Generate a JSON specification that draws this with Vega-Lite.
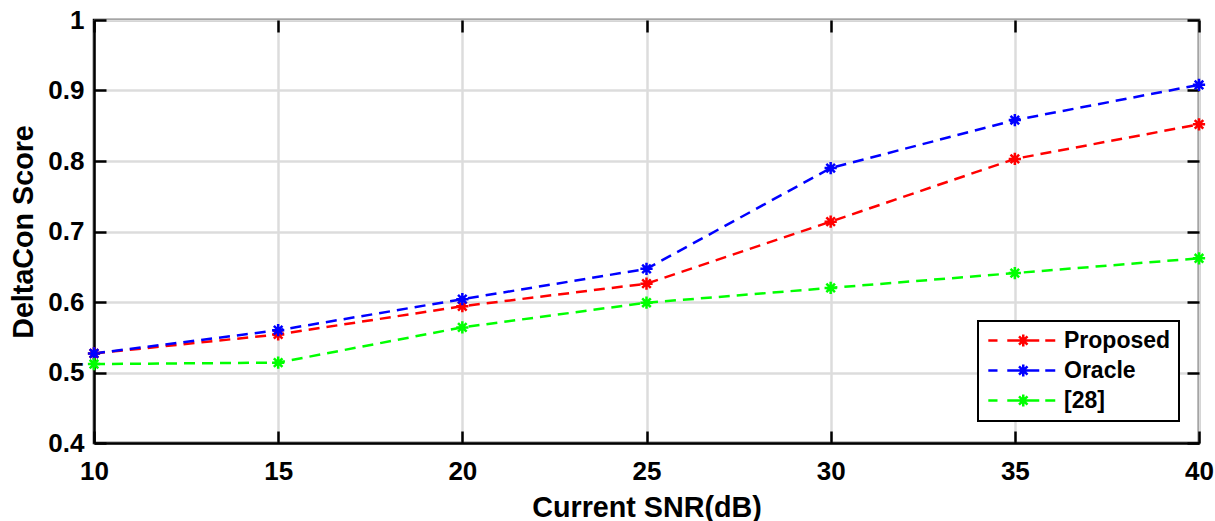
{
  "$schema": "https://vega.github.io/schema/vega-lite/v6.json",
  "width": 1105,
  "height": 423,
  "autosize": {"type": "none"},
  "padding": {"left": 94, "top": 20, "right": 16, "bottom": 78},
  "background": "white",
  "config": {
    "view": {"stroke": "black", "strokeWidth": 2.5},
    "font": "Liberation Sans",
    "legend": {"strokeColor": "black", "strokeWidth": 2},
    "axis": {
      "domainColor": "black", "domainWidth": 2.5,
      "tickColor": "black", "tickWidth": 2.5, "tickSize": -12,
      "gridColor": "#dcdcdc", "gridWidth": 2.5,
      "labelFont": "Liberation Sans", "labelFontWeight": "bold", "labelFontSize": 26, "labelColor": "black",
      "titleFont": "Liberation Sans", "titleFontWeight": "bold", "titleFontSize": 28.7, "titleColor": "black"
    }
  },
  "data": {"values": [
    {"snr": 10, "score": 0.527, "method": "Proposed"},
    {"snr": 15, "score": 0.554, "method": "Proposed"},
    {"snr": 20, "score": 0.594, "method": "Proposed"},
    {"snr": 25, "score": 0.626, "method": "Proposed"},
    {"snr": 30, "score": 0.714, "method": "Proposed"},
    {"snr": 35, "score": 0.803, "method": "Proposed"},
    {"snr": 40, "score": 0.852, "method": "Proposed"},
    {"snr": 10, "score": 0.527, "method": "Oracle"},
    {"snr": 15, "score": 0.560, "method": "Oracle"},
    {"snr": 20, "score": 0.604, "method": "Oracle"},
    {"snr": 25, "score": 0.647, "method": "Oracle"},
    {"snr": 30, "score": 0.790, "method": "Oracle"},
    {"snr": 35, "score": 0.858, "method": "Oracle"},
    {"snr": 40, "score": 0.908, "method": "Oracle"},
    {"snr": 10, "score": 0.512, "method": "[28]"},
    {"snr": 15, "score": 0.514, "method": "[28]"},
    {"snr": 20, "score": 0.564, "method": "[28]"},
    {"snr": 25, "score": 0.599, "method": "[28]"},
    {"snr": 30, "score": 0.620, "method": "[28]"},
    {"snr": 35, "score": 0.641, "method": "[28]"},
    {"snr": 40, "score": 0.662, "method": "[28]"}
  ]},
  "encoding": {
    "x": {"field": "snr", "type": "quantitative", "title": "Current SNR(dB)",
      "scale": {"domain": [10, 40], "nice": false, "zero": false},
      "axis": {"values": [10, 15, 20, 25, 30, 35, 40], "labelPadding": 27.5, "titlePadding": 8.5, "labelFlush": false}},
    "y": {"field": "score", "type": "quantitative", "title": "DeltaCon Score",
      "scale": {"domain": [0.4, 1], "nice": false, "zero": false},
      "axis": {"values": [0.4, 0.5, 0.6, 0.7, 0.8, 0.9, 1], "labelPadding": 22, "titlePadding": 9, "labelFlush": false,
        "labelExpr": "datum.value == 1 ? '1' : format(datum.value, '.1f')"}}
  },
  "layer": [
    {
      "encoding": {
        "color": {"field": "method", "type": "nominal",
          "scale": {"domain": ["Proposed", "Oracle", "[28]"], "range": ["#ff0000", "#0000ff", "#00ff00"]},
          "legend": {
            "title": null, "orient": "none", "legendX": 884, "legendY": 301,
            "strokeColor": "black", "fillColor": "white",
            "padding": 8, "rowPadding": 6,
            "symbolType": "M-1.15,0L0,0M1.22,0L5.22,0M5.97,0L7.22,0M3.22,-0.75L3.22,0.75M2.47,0L3.97,0M2.69,-0.53L3.75,0.53M2.69,0.53L3.75,-0.53",
            "symbolSize": 256, "symbolStrokeWidth": 2.5, "symbolFillColor": "transparent",
            "labelFont": "Liberation Sans", "labelFontWeight": "bold", "labelFontSize": 23, "labelColor": "black", "labelOffset": 55
          }
        }
      },
      "layer": [
        {"mark": {"type": "line", "strokeDash": [11, 7], "strokeWidth": 2.5}},
        {"mark": {"type": "point", "filled": false, "strokeWidth": 2.5, "size": 150, "opacity": 1,
          "shape": "M0,-1L0,1M-1,0L1,0M-0.7,-0.7L0.7,0.7M-0.7,0.7L0.7,-0.7"}}
      ]
    },
    {
      "mark": {"type": "point", "opacity": 0},
      "encoding": {
        "x": {"field": "snr", "type": "quantitative",
          "axis": {"orient": "top", "values": [10, 15, 20, 25, 30, 35, 40], "labels": false, "grid": false, "domain": false, "title": null}},
        "y": {"field": "score", "type": "quantitative",
          "axis": {"orient": "right", "values": [0.4, 0.5, 0.6, 0.7, 0.8, 0.9, 1], "labels": false, "grid": false, "domain": false, "title": null}}
      }
    }
  ],
  "resolve": {"axis": {"x": "independent", "y": "independent"}}
}
